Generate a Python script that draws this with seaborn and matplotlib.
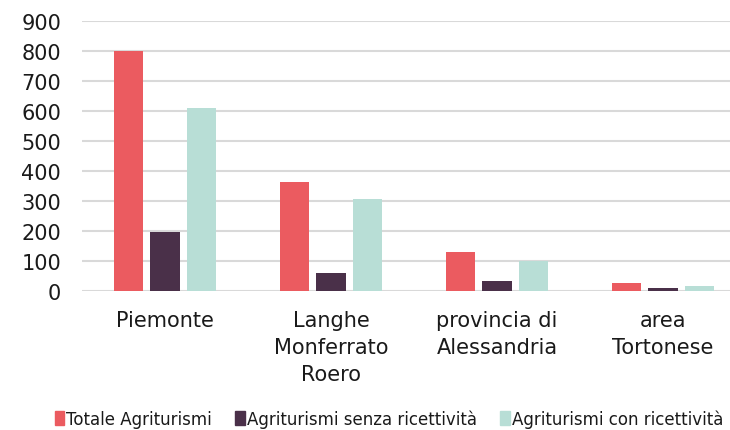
import pandas as pd
import matplotlib
matplotlib.use("Agg")
import matplotlib.pyplot as plt
import seaborn as sns

# data
aree = ["Piemonte", "Langhe\nMonferrato\nRoero", "provincia di\nAlessandria", "area\nTortonese"]
serie = ["Totale Agriturismi", "Agriturismi senza ricettività", "Agriturismi con ricettività"]
totale = [800, 362, 130, 24]
senza = [195, 59, 33, 10]
con = [610, 306, 100, 16]
colori = ["#EB5B60", "#4A3049", "#B8DED6"]

df = pd.DataFrame({
    "area": aree * 3,
    "serie": [serie[0]] * 4 + [serie[1]] * 4 + [serie[2]] * 4,
    "valore": totale + senza + con,
})

sns.set_style("white")
plt.rcParams["font.family"] = ["DejaVu Sans"]

fig = plt.figure(figsize=(7.3, 4.31), dpi=100)
ax = fig.add_axes([82 / 730, 139.5 / 431, 664 / 730, 270 / 431])

sns.barplot(data=df, x="area", y="valore", hue="serie", palette=colori,
            saturation=1, width=0.66, gap=0.18, linewidth=0, ax=ax)

ax.set_ylim(0, 900)
ax.set_xlim(-0.5, 3.5)
ax.set_yticks(range(0, 901, 100))
ax.yaxis.grid(True, color="#d9d9d9", linewidth=1.5)
ax.set_axisbelow(True)
for s in ax.spines.values():
    s.set_visible(False)
ax.set_xlabel("")
ax.set_ylabel("")
ax.tick_params(axis="y", length=0, pad=15, labelsize=15, labelcolor="#1a1a1a")
ax.tick_params(axis="x", length=0, pad=14, labelsize=15, labelcolor="#1a1a1a")
for lab in ax.get_xticklabels():
    lab.set_linespacing(1.45)

ax.get_legend().remove()
handles = [plt.Rectangle((0, 0), 1, 1, color=c) for c in colori]
fig.legend(handles, serie, loc="center", bbox_to_anchor=(0.533, 0.026), ncol=3,
           frameon=False, fontsize=12, handlelength=0.55, handleheight=0.9,
           handletextpad=0.15, columnspacing=1.4, labelcolor="#1a1a1a")

fig.savefig("out.png", dpi=100)
